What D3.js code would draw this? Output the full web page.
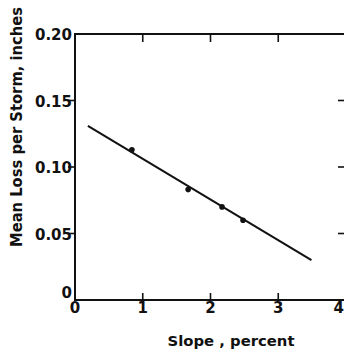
<!DOCTYPE html>
<html>
<head>
<meta charset="utf-8">
<script src="https://cdn.jsdelivr.net/npm/d3@7"></script>
<style>
  body { margin: 0; background: #fff; }
  text { font-family: "DejaVu Sans", sans-serif; font-weight: bold; fill: #111; }
</style>
</head>
<body>
<svg id="svg" width="344" height="354"></svg>
<script>
// observed points (slope %, mean loss in/storm)
const slopes = [0.84, 1.67, 2.17, 2.48];
const losses = [0.113, 0.083, 0.070, 0.060];
// fitted line ends
const fitX = [0.19, 3.49];
const fitY = [0.131, 0.030];
const xTicks = [0, 1, 2, 3, 4];
const yTicks = [0, 0.05, 0.10, 0.15, 0.20];
const yTickLabels = ['0', '0.05', '0.10', '0.15', '0.20'];

const svg = d3.select('#svg');
const x = d3.scaleLinear().domain([0, 4]).range([75, 346]);
const y = d3.scaleLinear().domain([0, 0.2]).range([300, 34]);
const ink = '#111';

// frame lines (right edge falls off the page)
const frame = svg.append('g').attr('stroke', ink).attr('stroke-width', 2);
frame.append('line').attr('x1', x(0) - 1).attr('x2', x(4)).attr('y1', y(0)).attr('y2', y(0));
frame.append('line').attr('x1', x(0) - 1).attr('x2', x(4)).attr('y1', y(0.2)).attr('y2', y(0.2));
frame.append('line').attr('x1', x(0)).attr('x2', x(0)).attr('y1', y(0)).attr('y2', y(0.2));

// ticks
const tk = svg.append('g').attr('stroke', ink).attr('stroke-width', 1.6);
xTicks.slice(1, 4).forEach(v => {
  tk.append('line').attr('x1', x(v)).attr('x2', x(v)).attr('y1', y(0)).attr('y2', y(0) - 7);
  tk.append('line').attr('x1', x(v)).attr('x2', x(v)).attr('y1', y(0.2)).attr('y2', y(0.2) + 8);
});
yTicks.slice(1, 4).forEach(v => {
  tk.append('line').attr('x1', x(0) - 7).attr('x2', x(0)).attr('y1', y(v)).attr('y2', y(v));
  tk.append('line').attr('x1', x(4) - 8).attr('x2', x(4)).attr('y1', y(v)).attr('y2', y(v));
});

// tick labels
svg.append('g').selectAll('text').data(xTicks).enter().append('text')
  .attr('x', d => d === 4 ? 344 : x(d)).attr('y', 313)
  .attr('text-anchor', d => d === 4 ? 'end' : 'middle')
  .attr('font-size', 15).text(d => d);
svg.append('g').selectAll('text').data(yTicks).enter().append('text')
  .attr('x', 72).attr('y', (d, i) => y(d) + (i === 0 ? -2 : 6)).attr('text-anchor', 'end')
  .attr('font-size', 15).text((d, i) => yTickLabels[i]);

// axis titles
svg.append('text').attr('x', 231).attr('y', 346).attr('text-anchor', 'middle')
  .attr('font-size', 14).attr('textLength', 127).attr('lengthAdjust', 'spacingAndGlyphs')
  .text('Slope , percent');
svg.append('text').attr('transform', 'translate(22,127) rotate(-90)')
  .attr('text-anchor', 'middle').attr('font-size', 15)
  .attr('textLength', 240).attr('lengthAdjust', 'spacingAndGlyphs')
  .text('Mean  Loss  per  Storm,  inches');

// fitted line
svg.append('line').attr('x1', x(fitX[0])).attr('y1', y(fitY[0]))
  .attr('x2', x(fitX[1])).attr('y2', y(fitY[1]))
  .attr('stroke', ink).attr('stroke-width', 2);

// points
svg.append('g').selectAll('circle').data(slopes).enter().append('circle')
  .attr('cx', d => x(d)).attr('cy', (d, i) => y(losses[i])).attr('r', 2.8).attr('fill', ink);
</script>
</body>
</html>
